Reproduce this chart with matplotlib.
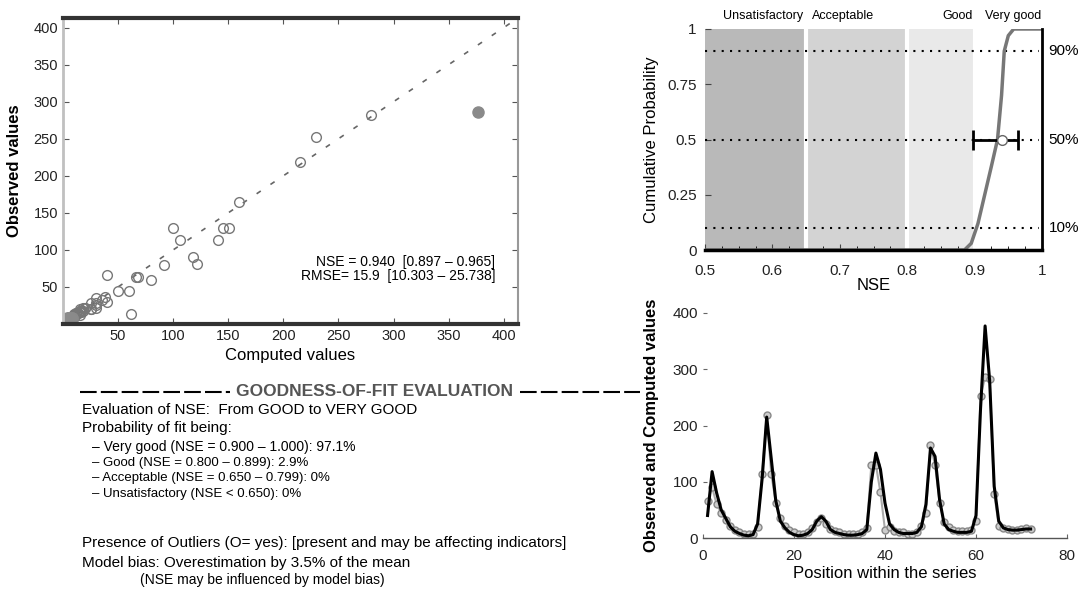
import matplotlib

matplotlib.use("Agg")
import matplotlib.pyplot as plt
import numpy as np
from matplotlib.lines import Line2D

plt.rcParams["font.family"] = ["Liberation Sans", "DejaVu Sans"]

# --- data -------------------------------------------------------------------
position = list(range(1, 73))
computed = [40, 118, 80, 50, 35, 20, 12, 8, 5, 4, 6, 25, 106, 215, 141, 66, 30, 18,
            10, 6, 4, 5, 8, 15, 30, 38, 30, 15, 10, 8, 6, 5, 5, 6, 8, 15, 100, 151,
            122, 62, 25, 15, 10, 8, 8, 8, 10, 20, 60, 160, 145, 68, 25, 15, 12, 10,
            10, 10, 12, 40, 230, 377, 280, 92, 30, 18, 15, 14, 14, 15, 16, 16]
observed = [66, 90, 60, 45, 32, 22, 15, 10, 8, 7, 8, 20, 113, 218, 114, 63, 35, 22,
            14, 10, 8, 8, 10, 18, 28, 36, 25, 16, 12, 10, 8, 8, 8, 8, 10, 18, 130, 130,
            81, 14, 20, 12, 10, 10, 8, 8, 10, 22, 45, 165, 130, 63, 28, 20, 15, 12,
            12, 12, 14, 30, 252, 286, 282, 79, 22, 18, 16, 15, 15, 16, 17, 16]
outlier_pos = [62]

nse_value = 0.940
nse_ci = (0.897, 0.965)
rmse_value = 15.9
rmse_ci = (10.303, 25.738)

cdf_nse = [0.5, 0.885, 0.895, 0.905, 0.915, 0.925, 0.934, 0.940, 0.944, 0.950, 0.958, 1.0]
cdf_prob = [0.0, 0.0, 0.03, 0.12, 0.25, 0.38, 0.50, 0.70, 0.90, 0.97, 1.0, 1.0]

class_edges = [0.5, 0.65, 0.8, 0.9, 1.0]
class_names = ["Unsatisfactory", "Acceptable", "Good", "Very good"]
class_colors = ["#b9b9b9", "#d3d3d3", "#e9e9e9", "white"]
pct_levels = [0.1, 0.5, 0.9]
pct_labels = ["10%", "50%", "90%"]

report_lines = [
    "Evaluation of NSE:  From GOOD to VERY GOOD",
    "Probability of fit being:",
    "\u2013 Very good (NSE = 0.900 \u2013 1.000): 97.1%",
    "\u2013 Good (NSE = 0.800 \u2013 0.899): 2.9%",
    "\u2013 Acceptable (NSE = 0.650 \u2013 0.799): 0%",
    "\u2013 Unsatisfactory (NSE < 0.650): 0%",
    "Presence of Outliers (O= yes): [present and may be affecting indicators]",
    "Model bias: Overestimation by 3.5% of the mean",
    "(NSE may be influenced by model bias)",
]

W, H = 1086, 597
fig = plt.figure(figsize=(W / 100, H / 100), dpi=100)


def box(x0, y0, x1, y1):
    """pixel box (top-left origin) -> figure rect"""
    return [x0 / W, 1 - y1 / H, (x1 - x0) / W, (y1 - y0) / H]


# --- scatter: computed vs observed ---------------------------------------------
ax = fig.add_axes(box(63, 18, 518, 324))
comp = np.array(computed, float); obs = np.array(observed, float)
pos = np.array(position)
filled = np.isin(pos, outlier_pos) | ((comp < 10) & (obs < 10))
lim = 413
ax.plot([0, lim], [0, lim], color="#666666", lw=1.2, ls=(0, (3, 7)))
ax.plot(comp[~filled], obs[~filled], "o", mfc="none", mec="#777777", ms=7, mew=1)
ax.plot(comp[filled], obs[filled], "o", color="#8a8a8a", ms=8)
ax.set_xlim(0, lim); ax.set_ylim(0, lim)
ax.set_xticks(range(50, 401, 50)); ax.set_yticks(range(50, 401, 50))
ax.tick_params(labelsize=10.5, length=4, direction="in", top=True, right=True, colors="#555555",
               labelcolor="#222222")
ax.spines["top"].set(lw=3, color="#333333")
ax.spines["bottom"].set(lw=3, color="#333333")
ax.spines["left"].set(lw=2, color="#c0c0c0")
ax.spines["right"].set(lw=1.5, color="#999999")
ax.set_xlabel("Computed values", fontsize=12, labelpad=4)
ax.set_ylabel("Observed values", fontsize=12, fontweight="bold", labelpad=8)
ax.text(0.95, 0.18, f"NSE = {nse_value:.3f}  [{nse_ci[0]:.3f} \u2013 {nse_ci[1]:.3f}]\n"
        f"RMSE= {rmse_value:.1f}  [{rmse_ci[0]:.3f} \u2013 {rmse_ci[1]:.3f}]",
        transform=ax.transAxes, ha="right", va="center", fontsize=10, linespacing=1.0)

# --- CDF of NSE -----------------------------------------------------------------
ax2 = fig.add_axes(box(705, 29, 1042, 250))
for i in range(len(class_names)):
    ax2.axvspan(class_edges[i], class_edges[i + 1], color=class_colors[i], lw=0)
    if i > 0:
        ax2.axvline(class_edges[i], color="white", lw=3)
for lv in pct_levels:
    ax2.plot([0.5, 0.995], [lv, lv], color="black", lw=1.5, ls=(0, (1, 3)))
ax2.plot(cdf_nse, cdf_prob, color="#777777", lw=2.5, solid_capstyle="butt")
ax2.errorbar([nse_value], [0.5], xerr=[[nse_value - nse_ci[0]], [nse_ci[1] - nse_value]],
             fmt="o", mfc="white", mec="#666666", ms=7, ecolor="black", elinewidth=2,
             capsize=7, capthick=2)
ax2.set_xlim(0.5, 1.0); ax2.set_ylim(0, 1)
ax2.set_xticks([0.5, 0.6, 0.7, 0.8, 0.9, 1.0])
ax2.set_xticklabels(["0.5", "0.6", "0.7", "0.8", "0.9", "1"])
ax2.set_xticks(np.arange(0.5, 1.0, 0.025), minor=True)
ax2.set_yticks([0, 0.25, 0.5, 0.75, 1.0])
ax2.set_yticklabels(["0", "0.25", "0.5", "0.75", "1"])
ax2.tick_params(labelsize=11, direction="in", length=4, colors="#444444", labelcolor="#222222")
ax2.tick_params(axis="x", pad=10)
ax2.tick_params(axis="y", pad=6)
ax2.tick_params(which="minor", direction="in", length=3)
ax2.spines["left"].set_visible(False); ax2.spines["top"].set_visible(False)
ax2.spines["right"].set(lw=2, color="black")
ax2.spines["bottom"].set(lw=2.5, color="black")
ax2.set_xlabel("NSE", fontsize=12, labelpad=0)
ax2.set_ylabel("Cumulative Probability", fontsize=12, labelpad=6)
lab_x = [(0.645, "right"), (0.658, "left"), (0.897, "right"), (0.915, "left")]
for (x, ha), name in zip(lab_x, class_names):
    ax2.text(x, 1.03, name, ha=ha, va="bottom", fontsize=9)
for lv, lab in zip(pct_levels, pct_labels):
    ax2.text(1.02, lv, lab, transform=ax2.get_yaxis_transform(), ha="left", va="center",
             fontsize=11)

# --- time series -----------------------------------------------------------------
ax3 = fig.add_axes(box(703, 313, 1067, 538))
ax3.plot(position, observed, "-o", color="#aaaaaa", lw=1.5, ms=5, mfc="#cccccc",
         mec="#888888")
ax3.plot(position, computed, "-", color="black", lw=2.2)
ax3.set_xlim(0, 80); ax3.set_ylim(0, 400)
ax3.set_xticks(range(0, 81, 20)); ax3.set_yticks(range(0, 401, 100))
ax3.tick_params(labelsize=11, direction="in", length=3, colors="#666666", labelcolor="#222222")
ax3.tick_params(axis="x", pad=8)
for s in ("top", "right", "left"):
    ax3.spines[s].set_visible(False)
ax3.spines["bottom"].set(lw=1, color="#555555")
ax3.set_xlabel("Position within the series", fontsize=12, labelpad=2)
ax3.set_ylabel("Observed and Computed values", fontsize=12, fontweight="bold", labelpad=10)

# --- text report -----------------------------------------------------------------
def fx(px): return px / W
def fy(py): return 1 - py / H

fig.text(fx(375), fy(392), "GOODNESS-OF-FIT EVALUATION", ha="center", va="center",
         fontsize=12.5, fontweight="bold", color="#555555")
for x0, x1 in [(80, 230), (520, 640)]:
    fig.add_artist(Line2D([fx(x0), fx(x1)], [fy(392), fy(392)], color="black", lw=1.5,
                          ls=(0, (8, 2))))
ys = [410, 428, 447, 463, 478, 494, 543, 563, 580]
xs = [82, 82, 92, 92, 92, 92, 82, 82, 140]
fs = [11, 11, 10, 9.5, 9.5, 9.5, 11, 11, 10]
for t, x, y, f in zip(report_lines, xs, ys, fs):
    fig.text(fx(x), fy(y), t, ha="left", va="center", fontsize=f)

fig.savefig("out.png", dpi=100)
plt.close(fig)
